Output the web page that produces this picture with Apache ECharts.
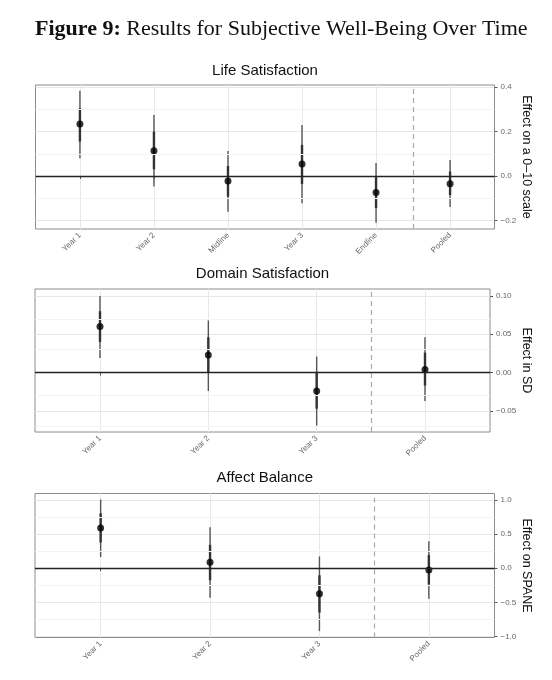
<!DOCTYPE html>
<html>
<head>
<meta charset="utf-8">
<script src="https://cdn.jsdelivr.net/npm/echarts@6/dist/echarts.min.js"></script>
<style>
  html, body { margin: 0; padding: 0; background: #fff; }
  #chart { width: 552px; height: 680px; }
</style>
</head>
<body>
<div id="chart"></div>
<script>
// Life Satisfaction
const lifeCats = ['Year 1', 'Year 2', 'Midline', 'Year 3', 'Endline', 'Pooled'];
const lifeEst = [0.234, 0.114, -0.023, 0.054, -0.075, -0.035];
const lifeLo95 = [0.080, -0.048, -0.161, -0.123, -0.211, -0.140];
const lifeHi95 = [0.384, 0.275, 0.113, 0.230, 0.059, 0.072];
const lifeLoIn = [0.155, 0.030, -0.093, -0.036, -0.144, -0.086];
const lifeHiIn = [0.305, 0.200, 0.045, 0.140, -0.006, 0.020];
const lifeTicks = [-0.2, 0, 0.2, 0.4];
const lifeMinor = [-0.1, 0.1, 0.3];

// Domain Satisfaction
const domCats = ['Year 1', 'Year 2', 'Year 3', 'Pooled'];
const domEst = [0.060, 0.023, -0.024, 0.004];
const domLo95 = [0.019, -0.024, -0.069, -0.037];
const domHi95 = [0.100, 0.068, 0.021, 0.046];
const domLoIn = [0.040, 0.000, -0.047, -0.017];
const domHiIn = [0.080, 0.046, 0.000, 0.026];
const domTicks = [-0.05, 0, 0.05, 0.10];
const domMinor = [-0.075, -0.025, 0.025, 0.075];

// Affect Balance
const affCats = ['Year 1', 'Year 2', 'Year 3', 'Pooled'];
const affEst = [0.592, 0.087, -0.374, -0.024];
const affLo95 = [0.165, -0.432, -0.922, -0.447];
const affHi95 = [1.010, 0.602, 0.175, 0.398];
const affLoIn = [0.379, -0.175, -0.650, -0.238];
const affHiIn = [0.806, 0.345, -0.102, 0.194];
const affTicks = [-1.0, -0.5, 0, 0.5, 1.0];
const affMinor = [-0.75, -0.25, 0.25, 0.75];

const SANS = 'Liberation Sans';
const SERIF = 'Liberation Serif';

const chart = echarts.init(document.getElementById('chart'));

const panels = [
  { title: 'Life Satisfaction', name: 'Effect on a 0\u201310 scale', cats: lifeCats, est: lifeEst,
    lo: lifeLo95, hi: lifeHi95, loIn: lifeLoIn, hiIn: lifeHiIn, ticks: lifeTicks, minor: lifeMinor,
    min: -0.239, max: 0.41, digits: 1, nameGap: 25,
    grid: { left: 35.5, right: 57.5, top: 85, height: 144 }, titleY: 71 },
  { title: 'Domain Satisfaction', name: 'Effect in SD', cats: domCats, est: domEst,
    lo: domLo95, hi: domHi95, loIn: domLoIn, hiIn: domHiIn, ticks: domTicks, minor: domMinor,
    min: -0.0775, max: 0.109, digits: 2, nameGap: 30,
    grid: { left: 35, right: 62, top: 289, height: 143 }, titleY: 274 },
  { title: 'Affect Balance', name: 'Effect on SPANE', cats: affCats, est: affEst,
    lo: affLo95, hi: affHi95, loIn: affLoIn, hiIn: affHiIn, ticks: affTicks, minor: affMinor,
    min: -1.016, max: 1.098, digits: 1, nameGap: 25,
    grid: { left: 35, right: 57.5, top: 493.5, height: 144 }, titleY: 478 }
];

const grids = [], xAxes = [], yAxes = [], series = [], graphics = [];

panels.forEach(function (p, i) {
  grids.push(Object.assign({ show: true, borderColor: '#8c8c8c', borderWidth: 1 }, p.grid));
  const pos = p.cats.map(function (c, k) { return k + 1; });

  // panel title, centred over the plot area
  const cx = p.grid.left + (552 - p.grid.left - p.grid.right) / 2;
  graphics.push({
    type: 'text', x: cx, y: p.titleY,
    style: { text: p.title, align: 'center', verticalAlign: 'middle',
      font: '15px "' + SANS + '"', fill: '#111' }
  });

  xAxes.push({
    gridIndex: i, type: 'value', min: 0.4, max: p.cats.length + 0.6,
    axisLine: { show: false },
    axisTick: { show: true, length: 3, lineStyle: { color: '#555' }, customValues: pos },
    axisLabel: { customValues: pos, rotate: 45, margin: 5, fontFamily: SANS, fontSize: 8, color: '#666',
      formatter: function (v) { return p.cats[Math.round(v) - 1]; } },
    splitLine: { show: true, lineStyle: { color: '#e8e8e8', width: 1 } }
  });

  yAxes.push({
    gridIndex: i, type: 'value', position: 'right', min: p.min, max: p.max,
    name: p.name, nameLocation: 'middle', nameRotate: -90, nameGap: p.nameGap, nameMoveOverlap: false,
    nameTextStyle: { fontFamily: SANS, fontSize: 12.5, color: '#111' },
    axisLine: { show: false },
    axisTick: { show: true, length: 3, lineStyle: { color: '#555' }, customValues: p.ticks },
    axisLabel: { customValues: p.ticks, margin: 6, fontFamily: SANS, fontSize: 8, color: '#666',
      formatter: function (v) {
        const s = Math.abs(v).toFixed(p.digits);
        return (v < -1e-9 ? '\u2212' : '') + s;
      } },
    splitLine: { show: true, lineStyle: { color: '#e8e8e8', width: 1 } }
  });

  // minor grid, zero line, dashed separator before "Pooled"
  const lines = p.minor.map(function (v) {
    return { yAxis: v, lineStyle: { color: '#f3f3f3', width: 1, type: 'solid' } };
  });
  lines.push({ xAxis: p.cats.length - 0.5, lineStyle: { color: '#aaaaaa', width: 1.2, type: [5, 4] } });
  lines.push({ yAxis: 0, lineStyle: { color: '#222', width: 1.4, type: 'solid' } });
  series.push({
    type: 'line', xAxisIndex: i, yAxisIndex: i, data: [], z: 1, silent: true,
    markLine: { silent: true, symbol: ['none', 'none'], label: { show: false }, animation: false, data: lines }
  });

  // confidence intervals: thin outer, thick inner
  series.push({
    type: 'custom', xAxisIndex: i, yAxisIndex: i, z: 3, silent: true,
    data: p.cats.map(function (c, k) { return [k + 1, p.lo[k], p.hi[k], p.loIn[k], p.hiIn[k]]; }),
    encode: { x: 0, y: [1, 2, 3, 4] },
    renderItem: function (params, api) {
      const x = api.value(0);
      const a = api.coord([x, api.value(1)]);
      const b = api.coord([x, api.value(2)]);
      const c = api.coord([x, api.value(3)]);
      const d = api.coord([x, api.value(4)]);
      return {
        type: 'group', children: [
          { type: 'line', shape: { x1: a[0], y1: a[1], x2: b[0], y2: b[1] }, style: { stroke: '#555', lineWidth: 1.4 } },
          { type: 'line', shape: { x1: c[0], y1: c[1], x2: d[0], y2: d[1] }, style: { stroke: '#333', lineWidth: 2.4 } }
        ]
      };
    }
  });

  series.push({
    type: 'scatter', xAxisIndex: i, yAxisIndex: i, z: 4, silent: true,
    symbol: 'circle', symbolSize: 7, itemStyle: { color: '#000' },
    data: p.est.map(function (v, k) { return [k + 1, v]; })
  });
});

graphics.push({
  type: 'text', x: 35, y: 29,
  style: {
    text: '{b|Figure 9:} Results for Subjective Well-Being Over Time',
    verticalAlign: 'middle', font: '22px "' + SERIF + '"', fill: '#111',
    rich: { b: { fontWeight: 'bold', fontFamily: SERIF, fontSize: 22, fill: '#111' } }
  }
});

chart.setOption({
  animation: false,
  backgroundColor: '#fff',
  grid: grids,
  xAxis: xAxes,
  yAxis: yAxes,
  series: series,
  graphic: graphics
});
</script>
</body>
</html>
